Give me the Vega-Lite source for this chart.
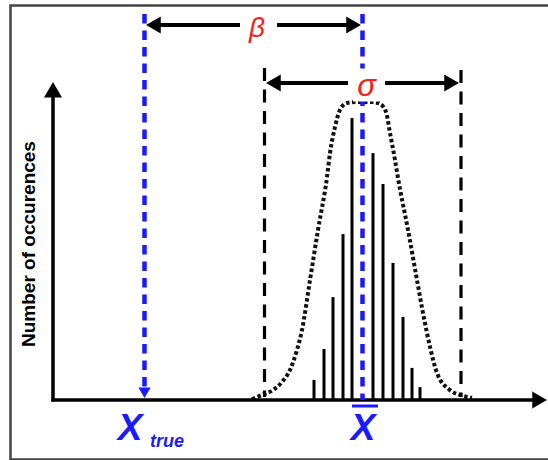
{
  "$schema": "https://vega.github.io/schema/vega-lite/v6.json",
  "width": 548,
  "height": 460,
  "padding": 0,
  "autosize": {"type": "none"},
  "background": "white",
  "config": {"view": {"stroke": null}},
  "encoding": {
    "x": {"field": "x", "type": "quantitative", "scale": {"domain": [-5.3, 49.5], "nice": false, "zero": false}, "axis": null},
    "y": {"field": "y", "type": "quantitative", "scale": {"domain": [-2, 13.3333], "nice": false, "zero": false}, "axis": null}
  },
  "layer": [
    {
      "data": {"values": [{"x": -4.25, "x2": 53, "y": 13.15, "y2": -1.983}]},
      "mark": {"type": "rect", "fill": null, "stroke": "#444444", "strokeWidth": 2.5},
      "encoding": {"x2": {"field": "x2"}, "y2": {"field": "y2"}}
    },
    {
      "data": {"values": [
        {"x": 26.1, "y": 0.67}, {"x": 27.1, "y": 1.70}, {"x": 28.0, "y": 3.43}, {"x": 29.0, "y": 5.53},
        {"x": 29.9, "y": 9.40}, {"x": 32.0, "y": 8.23}, {"x": 33.0, "y": 7.20}, {"x": 34.0, "y": 4.57},
        {"x": 35.0, "y": 2.77}, {"x": 35.9, "y": 1.07}, {"x": 36.7, "y": 0.43}
      ]},
      "mark": {"type": "rule", "color": "black", "strokeWidth": 3},
      "encoding": {"y2": {"datum": 0}}
    },
    {
      "data": {"values": [
        {"x": 19.9, "y": 0.03}, {"x": 20.9, "y": 0.17}, {"x": 22.0, "y": 0.33}, {"x": 22.9, "y": 0.6},
        {"x": 23.7, "y": 1.0}, {"x": 24.4, "y": 1.67}, {"x": 24.9, "y": 2.33}, {"x": 25.7, "y": 4.0},
        {"x": 26.5, "y": 5.67}, {"x": 27.4, "y": 7.43}, {"x": 27.7, "y": 8.23}, {"x": 28.2, "y": 9.1},
        {"x": 28.7, "y": 9.67}, {"x": 29.4, "y": 9.9}, {"x": 30.2, "y": 9.93}, {"x": 31.1, "y": 9.93},
        {"x": 32.0, "y": 9.93}, {"x": 32.7, "y": 9.87}, {"x": 33.3, "y": 9.6}, {"x": 33.7, "y": 8.9},
        {"x": 34.2, "y": 8.0}, {"x": 34.5, "y": 7.4}, {"x": 35.5, "y": 5.67}, {"x": 36.4, "y": 4.0},
        {"x": 37.0, "y": 2.9}, {"x": 37.7, "y": 1.77}, {"x": 38.4, "y": 0.9}, {"x": 39.7, "y": 0.33},
        {"x": 40.7, "y": 0.17}, {"x": 41.9, "y": 0.07}
      ]},
      "mark": {"type": "line", "color": "#111111", "strokeWidth": 4, "strokeDash": [3.5, 2.5], "interpolate": "monotone"}
    },
    {
      "data": {"values": [{"x": -0.17, "y": 0, "x2": 48.5, "y2": 0}, {"x": 0, "y": -0.05, "x2": 0, "y2": 10.3}]},
      "mark": {"type": "rule", "color": "black", "strokeWidth": 3.5},
      "encoding": {"x2": {"field": "x2"}, "y2": {"field": "y2"}}
    },
    {
      "data": {"values": [{"x": 0, "y": 10.34}]},
      "mark": {"type": "point", "shape": "triangle-up", "size": 324, "filled": true, "color": "black", "opacity": 1}
    },
    {
      "data": {"values": [{"x": 48.66, "y": 0}]},
      "mark": {"type": "point", "shape": "triangle-right", "size": 289, "filled": true, "color": "black", "opacity": 1}
    },
    {
      "data": {"values": [{"x": 21.15, "y": 11.07, "y2": 0.1}, {"x": 40.8, "y": 11.0, "y2": 0.1}]},
      "mark": {"type": "rule", "color": "black", "strokeWidth": 3.2, "strokeDash": [13, 8.5]},
      "encoding": {"y2": {"field": "y2"}}
    },
    {
      "data": {"values": [{"x": 9.15, "y": 12.87, "y2": 0.4}, {"x": 30.95, "y": 12.87, "y2": 0}]},
      "mark": {"type": "rule", "color": "#1a1aff", "strokeWidth": 4.5, "strokeDash": [9.5, 7]},
      "encoding": {"y2": {"field": "y2"}}
    },
    {
      "data": {"values": [{"x": 9.15, "y": 0.24}]},
      "mark": {"type": "point", "shape": "triangle-down", "size": 150, "filled": true, "color": "#1a1aff", "opacity": 1}
    },
    {
      "data": {"values": [
        {"x": 9.9, "x2": 18.7, "y": 12.5}, {"x": 22.4, "x2": 30.2, "y": 12.5},
        {"x": 21.6, "x2": 29.5, "y": 10.567}, {"x": 33.2, "x2": 40.2, "y": 10.567}
      ]},
      "mark": {"type": "rule", "color": "black", "strokeWidth": 4},
      "encoding": {"x2": {"field": "x2"}}
    },
    {
      "data": {"values": [{"x": 10.04, "y": 12.5}, {"x": 22.04, "y": 10.567}]},
      "mark": {"type": "point", "shape": "triangle-left", "size": 289, "filled": true, "color": "black", "opacity": 1}
    },
    {
      "data": {"values": [{"x": 30.06, "y": 12.5}, {"x": 39.86, "y": 10.567}]},
      "mark": {"type": "point", "shape": "triangle-right", "size": 289, "filled": true, "color": "black", "opacity": 1}
    },
    {
      "data": {"values": [{"x": 30.0, "x2": 32.6, "y": 11.05, "y2": 9.95}]},
      "mark": {"type": "rect", "color": "white", "opacity": 1},
      "encoding": {"x2": {"field": "x2"}, "y2": {"field": "y2"}}
    },
    {
      "data": {"values": [{"x": 20.4, "y": 12.1, "label": "β"}]},
      "mark": {"type": "text", "color": "#ff1a1a", "font": "Liberation Sans", "fontSize": 28, "fontStyle": "italic", "align": "center", "baseline": "alphabetic"},
      "encoding": {"text": {"field": "label"}}
    },
    {
      "data": {"values": [{"x": 31.35, "y": 10.13, "label": "σ"}]},
      "mark": {"type": "text", "color": "#ff1a1a", "font": "Liberation Sans", "fontSize": 31, "fontStyle": "italic", "align": "center", "baseline": "alphabetic"},
      "encoding": {"text": {"field": "label"}}
    },
    {
      "data": {"values": [{"x": -2.4, "y": 5.2, "label": "Number of occurences"}]},
      "mark": {"type": "text", "color": "black", "font": "Liberation Sans", "fontSize": 19, "fontWeight": "bold", "angle": 270, "align": "center", "baseline": "middle"},
      "encoding": {"text": {"field": "label"}}
    },
    {
      "data": {"values": [{"x": 7.7, "y": -1.333, "label": "X"}, {"x": 31.0, "y": -1.333, "label": "X"}]},
      "mark": {"type": "text", "color": "#1a1aff", "font": "Liberation Sans", "fontSize": 37, "fontWeight": "bold", "fontStyle": "italic", "align": "center", "baseline": "alphabetic"},
      "encoding": {"text": {"field": "label"}}
    },
    {
      "data": {"values": [{"x": 9.7, "y": -1.567, "label": "true"}]},
      "mark": {"type": "text", "color": "#1a1aff", "font": "Liberation Sans", "fontSize": 18, "fontWeight": "bold", "fontStyle": "italic", "align": "left", "baseline": "alphabetic"},
      "encoding": {"text": {"field": "label"}}
    },
    {
      "data": {"values": [{"x": 29.9, "x2": 32.5, "y": -0.2}]},
      "mark": {"type": "rule", "color": "#1a1aff", "strokeWidth": 3},
      "encoding": {"x2": {"field": "x2"}}
    }
  ]
}
